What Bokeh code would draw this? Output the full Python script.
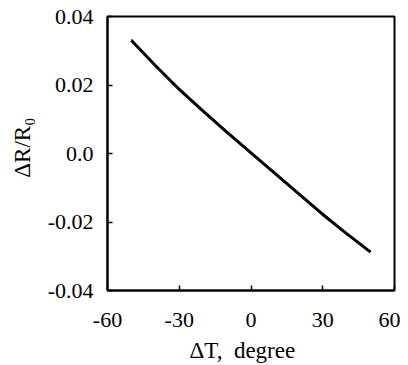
from bokeh.plotting import figure
from bokeh.models import FixedTicker, Range1d
from bokeh.embed import file_html
from bokeh.resources import INLINE

# data
temp_delta = [-50, -40, -30, -20, -10, 0, 10, 20, 30, 40, 50]
resist_measured = [0.0330, 0.0257, 0.0187, 0.0124, 0.0062, 0.0002, -0.0058, -0.0118, -0.0178, -0.0234, -0.0288]
resist_fit = [0.0333, 0.0255, 0.0190, 0.0122, 0.0064, 0.0000, -0.0056, -0.0120, -0.0175, -0.0236, -0.0286]
x_ticks = [-60, -30, 0, 30, 60]
x_tick_labels = ["-60", "-30", "0", "30", "60"]
y_ticks = [0.04, 0.02, 0.0, -0.02, -0.04]
y_tick_labels = ["0.04", "0.02", "0.0", "-0.02", "-0.04"]
x_title = "\u0394T,\u00a0 degree"
y_title = "\u0394R/R\u2080"

NB = "\u00a0"
FONT = "Liberation Serif"
W, H = 400, 365

p = figure(width=W, height=H, output_backend="svg", toolbar_location=None,
           x_range=Range1d(-60, 60), y_range=Range1d(-0.04, 0.04),
           min_border_left=107, min_border_right=6, min_border_top=16, min_border_bottom=75)

p.grid.visible = False
p.background_fill_color = "white"
p.border_fill_color = "white"
p.outline_line_color = "black"
p.outline_line_width = 2

for ax in (p.xaxis[0], p.yaxis[0]):
    ax.axis_line_color = "black"
    ax.axis_line_width = 2
    ax.major_tick_in = 5
    ax.major_tick_out = 0
    ax.major_tick_line_width = 1.5
    ax.minor_tick_line_color = None
    ax.major_label_text_font = FONT
    ax.major_label_text_font_size = "22px"
    ax.major_label_text_color = "black"
    ax.axis_label_text_font = FONT
    ax.axis_label_text_font_style = "normal"
    ax.axis_label_text_color = "black"

p.xaxis[0].ticker = FixedTicker(ticks=x_ticks)
p.xaxis[0].major_label_overrides = {v: s for v, s in zip(x_ticks, x_tick_labels)}
p.xaxis[0].major_label_standoff = 22
p.xaxis[0].axis_label = x_title + NB * 3
p.xaxis[0].axis_label_text_font_size = "23px"
p.xaxis[0].axis_label_standoff = 8

p.yaxis[0].ticker = FixedTicker(ticks=y_ticks)
p.yaxis[0].major_label_overrides = {v: s for v, s in zip(y_ticks, y_tick_labels)}
p.yaxis[0].major_label_standoff = 14
p.yaxis[0].axis_label = NB * 2 + y_title
p.yaxis[0].axis_label_text_font_size = "23px"
p.yaxis[0].axis_label_standoff = 10

p.line(temp_delta, resist_measured, line_color="black", line_width=3)
p.line(temp_delta, resist_fit, line_color="black", line_width=1.5, line_dash="4 2")

open("out.html", "w").write(file_html(p, INLINE))
